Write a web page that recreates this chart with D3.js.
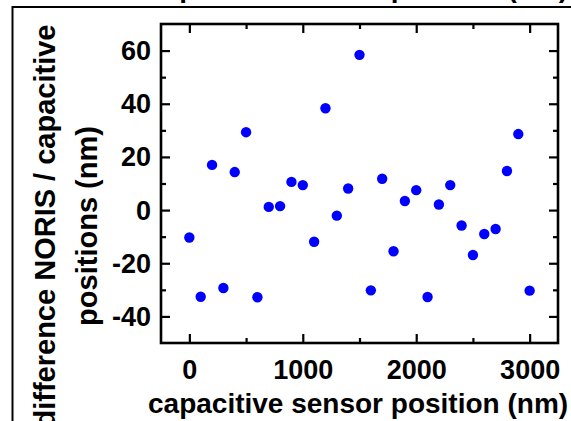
<!DOCTYPE html>
<html>
<head>
<meta charset="utf-8">
<script src="https://cdn.jsdelivr.net/npm/d3@7"></script>
<style>
  body { margin: 0; background: #fff; }
  svg { display: block; font-family: "Liberation Sans", Arial, sans-serif; font-weight: bold; }
</style>
</head>
<body>
<div id="chart1"></div>
<script>
// capacitive sensor position (nm) and the NORIS - capacitive difference (nm)
const positions = [0,100,200,300,400,500,600,700,800,900,1000,1100,1200,1300,1400,1500,
  1600,1700,1800,1900,2000,2100,2200,2300,2400,2500,2600,2700,2800,2900,3000];
const differences = [-10.3,-32.6,17.0,-29.3,14.3,29.3,-32.8,1.2,1.5,10.6,9.4,-11.9,38.3,-2.1,8.1,58.4,
  -30.2,11.8,-15.5,3.4,7.5,-32.7,2.1,9.4,-5.8,-16.9,-9.0,-7.1,14.7,28.6,-30.3];
const xTicks = [0, 1000, 2000, 3000];
const xMinorTicks = [500, 1500, 2500];
const yTicks = [-40, -20, 0, 20, 40, 60];
const yMinorTicks = [-30, -10, 10, 30, 50];
const xLabel = "capacitive sensor position (nm)";
const yLabel = ["difference NORIS / capacitive", "positions (nm)"];

const width = 571;
const height = 421;
const margin = ({top: 24, right: 13, bottom: 78, left: 161});

const data = positions.map((p, i) => ({pos: p, diff: differences[i]}));

const svg = d3.select("#chart1")
    .append("svg")
    .attr("width", width)
    .attr("height", height)
    .attr("viewBox", [0, 0, width, height]);

const x = d3.scaleLinear()
    .domain([-250, 3250])
    .range([margin.left, width - margin.right]);

const y = d3.scaleLinear()
    .domain([-50, 70])
    .range([height - margin.bottom, margin.top]);

// plain hyphen for negatives, like the original figure
const plain = d => String(d);

// panel border left over from the figure this was cut out of
svg.append("path")
    .attr("d", `M12.5,${height} V7 H${width}`)
    .attr("fill", "none")
    .attr("stroke", "#000")
    .attr("stroke-width", 2);

// the x label of the panel above, only its descenders show
svg.append("text")
    .attr("x", 148)
    .attr("y", -3)
    .attr("font-size", 28)
    .text(xLabel);

// ticks point inward on all four sides, labels only left and bottom
function drawAxis(axis, transform, size, labels) {
  const g = svg.append("g")
      .attr("transform", transform)
      .call(axis.tickSize(-size).tickSizeOuter(0).tickPadding(10));
  g.select(".domain").remove();
  g.selectAll("line").attr("stroke-width", 2.2);
  g.selectAll("text")
      .attr("font-size", 27)
      .attr("font-family", "Liberation Sans, Arial, sans-serif")
      .attr("font-weight", "bold")
      .attr("fill", "#000");
  if (!labels) g.selectAll("text").remove();
  return g;
}

const bottomY = `translate(0,${y(-50)})`;
const topY = `translate(0,${y(70)})`;
const leftX = `translate(${x(-250)},0)`;
const rightX = `translate(${x(3250)},0)`;

drawAxis(d3.axisBottom(x).tickValues(xTicks).tickFormat(plain), bottomY, 9, true)
    .selectAll("text").attr("dy", "0.95em");
drawAxis(d3.axisBottom(x).tickValues(xMinorTicks), bottomY, 5, false);
drawAxis(d3.axisTop(x).tickValues(xTicks), topY, 9, false);
drawAxis(d3.axisTop(x).tickValues(xMinorTicks), topY, 5, false);

drawAxis(d3.axisLeft(y).tickValues(yTicks).tickFormat(plain), leftX, 9, true)
    .selectAll("text").attr("dy", "0.33em");
drawAxis(d3.axisLeft(y).tickValues(yMinorTicks), leftX, 5, false);
drawAxis(d3.axisRight(y).tickValues(yTicks), rightX, 9, false);
drawAxis(d3.axisRight(y).tickValues(yMinorTicks), rightX, 5, false);

// plot frame
svg.append("rect")
    .attr("x", x(-250))
    .attr("y", y(70))
    .attr("width", x(3250) - x(-250))
    .attr("height", y(-50) - y(70))
    .attr("fill", "none")
    .attr("stroke", "#000")
    .attr("stroke-width", 2.6);

svg.selectAll(".dot")
    .data(data)
    .join("circle")
    .attr("class", "dot")
    .attr("cx", d => x(d.pos))
    .attr("cy", d => y(d.diff))
    .attr("r", 5.2)
    .attr("fill", "#0000ff");

svg.append("text")
    .attr("x", 148)
    .attr("y", 413)
    .attr("font-size", 28)
    .text(xLabel);

// two-line rotated y label
svg.selectAll(".ylabel")
    .data(yLabel)
    .join("text")
    .attr("class", "ylabel")
    .attr("transform", (d, i) => `translate(${[55, 97][i]},226) rotate(-90)`)
    .attr("text-anchor", "middle")
    .attr("font-size", 29)
    .text(d => d);
</script>
</body>
</html>
